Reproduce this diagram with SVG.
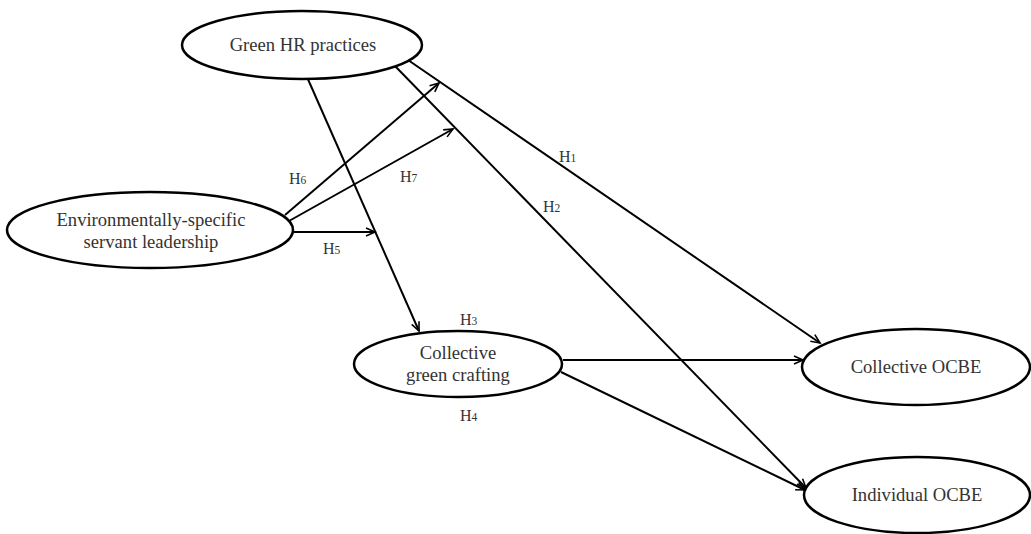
<svg xmlns="http://www.w3.org/2000/svg" width="1031" height="534" viewBox="0 0 1031 534">
<defs>
<style>
.node{fill:#fff;stroke:#000;stroke-width:2.5}
.lbl{font-family:"Liberation Serif","Times New Roman",serif;font-size:18.6px;fill:#333;text-anchor:middle}
.h{font-family:"Liberation Serif","Times New Roman",serif;font-size:16px;fill:#333}
.sub{font-size:11.5px}
.c{fill:none;stroke:#000;stroke-width:2}
</style>
<marker id="arr" markerWidth="12" markerHeight="12" refX="10" refY="5" orient="auto" markerUnits="userSpaceOnUse">
<path d="M1,1 L10,5 L1,9" fill="none" stroke="#000" stroke-width="1.6"/>
</marker>
</defs>
<rect width="1031" height="534" fill="#fff"/>
<g id="connectors">
<line class="c" x1="307" y1="77" x2="419" y2="331" marker-end="url(#arr)"/>
<line class="c" x1="408" y1="60" x2="820" y2="343" marker-end="url(#arr)"/>
<line class="c" x1="395" y1="66" x2="806" y2="488" marker-end="url(#arr)"/>
<line class="c" x1="285" y1="215" x2="439" y2="83" marker-end="url(#arr)"/>
<line class="c" x1="289" y1="221" x2="453" y2="129" marker-end="url(#arr)"/>
<line class="c" x1="293" y1="232" x2="375" y2="232" marker-end="url(#arr)"/>
<line class="c" x1="563" y1="360" x2="803" y2="360" marker-end="url(#arr)"/>
<line class="c" x1="561" y1="372" x2="805" y2="490" marker-end="url(#arr)"/>
</g>
<g id="labels">
<text class="h" x="559" y="162">H<tspan class="sub">1</tspan></text>
<text class="h" x="543" y="212">H<tspan class="sub">2</tspan></text>
<text class="h" x="460" y="325">H<tspan class="sub">3</tspan></text>
<text class="h" x="460" y="421">H<tspan class="sub">4</tspan></text>
<text class="h" x="323" y="254">H<tspan class="sub">5</tspan></text>
<text class="h" x="289" y="184">H<tspan class="sub">6</tspan></text>
<text class="h" x="400" y="182">H<tspan class="sub">7</tspan></text>
</g>
<g id="green-hr">
<ellipse class="node" cx="302" cy="45" rx="120" ry="34"/>
<text class="lbl" x="303" y="51">Green HR practices</text>
</g>
<g id="essl">
<ellipse class="node" cx="150" cy="230" rx="143" ry="38"/>
<text class="lbl" x="151" y="226">Environmentally-specific</text>
<text class="lbl" x="151" y="248">servant leadership</text>
</g>
<g id="cgc">
<ellipse class="node" cx="458" cy="364" rx="104" ry="33"/>
<text class="lbl" x="458" y="359">Collective</text>
<text class="lbl" x="458" y="381">green crafting</text>
</g>
<g id="collective-ocbe">
<ellipse class="node" cx="916" cy="367" rx="114" ry="38"/>
<text class="lbl" x="916" y="373">Collective OCBE</text>
</g>
<g id="individual-ocbe">
<ellipse class="node" cx="917" cy="495" rx="113" ry="38"/>
<text class="lbl" x="917" y="501">Individual OCBE</text>
</g>
</svg>
